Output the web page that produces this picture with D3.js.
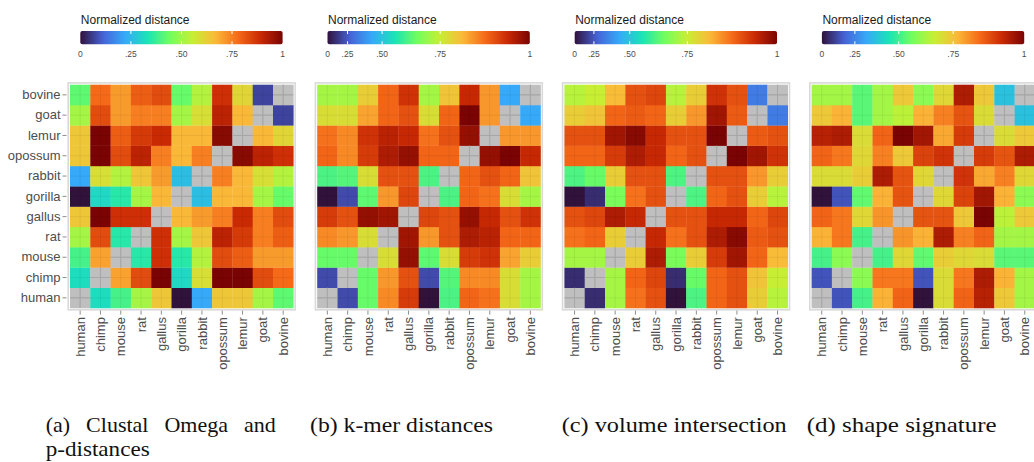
<!DOCTYPE html>
<html>
<head>
<meta charset="utf-8">
<script src="https://cdn.jsdelivr.net/npm/d3@7"></script>
<style>
  body { margin: 0; background: #fff; }
  svg { display: block; }
</style>
</head>
<body>
<script>
// species, in the order of the x axis (y axis is reversed)
const species = ['human', 'chimp', 'mouse', 'rat', 'gallus', 'gorilla', 'rabbit', 'opossum', 'lemur', 'goat', 'bovine'];

// colour bar ticks
const tickVals = [0, 0.25, 0.5, 0.75, 1];
const tickLabels = ['0', '.25', '.50', '.75', '1'];

// where each tick value sits along the colour bar (0..1), per panel
const stopsA = [0, 0.25, 0.5, 0.75, 1];
const stopsB = [0, 0.099, 0.27, 0.557, 1];
const stopsC = [0, 0.095, 0.272, 0.557, 1];
const stopsD = [0, 0.163, 0.38, 0.649, 1];

// normalized distances, lower triangle: row k is species[k+1] vs species[0..k]
const distA = [
  [0.32],
  [0.39, 0.70],
  [0.51, 0.83, 0.35],
  [0.64, 1.00, 0.88, 0.88],
  [0.00, 0.31, 0.35, 0.51, 0.67],
  [0.22, 0.59, 0.53, 0.64, 0.71, 0.26],
  [0.64, 1.00, 0.83, 0.91, 0.75, 0.67, 0.75],
  [0.64, 1.00, 0.80, 0.86, 0.89, 0.67, 0.67, 0.98],
  [0.51, 0.83, 0.71, 0.75, 0.75, 0.51, 0.59, 0.91, 0.67],
  [0.42, 0.78, 0.71, 0.80, 0.83, 0.43, 0.53, 0.88, 0.61, 0.07]
];
const distB = [
  [0.20],
  [0.64, 0.64],
  [0.85, 0.84, 0.77],
  [0.92, 0.90, 0.98, 0.97],
  [0.00, 0.20, 0.63, 0.84, 0.91],
  [0.61, 0.62, 0.77, 0.90, 0.90, 0.61],
  [0.88, 0.85, 0.92, 0.96, 0.98, 0.88, 0.88],
  [0.87, 0.85, 0.93, 0.95, 0.94, 0.87, 0.90, 0.98],
  [0.77, 0.77, 0.83, 0.88, 0.90, 0.77, 0.88, 1.00, 0.84],
  [0.71, 0.71, 0.79, 0.88, 0.93, 0.71, 0.80, 0.94, 0.84, 0.43]
];
const distC = [
  [0.10],
  [0.71, 0.71],
  [0.87, 0.88, 0.79],
  [0.90, 0.91, 0.96, 0.94],
  [0.00, 0.10, 0.66, 0.87, 0.90],
  [0.61, 0.64, 0.79, 0.90, 0.90, 0.61],
  [0.88, 0.88, 0.92, 0.96, 0.94, 0.88, 0.90],
  [0.90, 0.90, 0.97, 0.99, 0.94, 0.90, 0.90, 1.00],
  [0.79, 0.80, 0.88, 0.89, 0.88, 0.79, 0.84, 0.97, 0.89],
  [0.73, 0.75, 0.81, 0.90, 0.91, 0.73, 0.79, 0.93, 0.90, 0.33]
];
const distD = [
  [0.14],
  [0.51, 0.59],
  [0.77, 0.83, 0.51],
  [0.85, 0.83, 0.71, 0.80],
  [0.00, 0.14, 0.54, 0.77, 0.87],
  [0.70, 0.70, 0.73, 0.95, 0.87, 0.71],
  [0.85, 0.83, 0.71, 0.82, 0.74, 0.89, 0.91],
  [0.94, 0.95, 0.70, 0.85, 1.00, 0.96, 0.78, 0.90],
  [0.74, 0.77, 0.53, 0.62, 0.65, 0.77, 0.82, 0.87, 0.70],
  [0.62, 0.62, 0.53, 0.62, 0.74, 0.59, 0.71, 0.95, 0.74, 0.37]
];

const captions = [
  ['(a) Clustal Omega and', 'p-distances'],
  ['(b) k-mer distances'],
  ['(c) volume intersection'],
  ['(d) shape signature']
];

const panels = [
  { dist: distA, stops: stopsA, caption: captions[0] },
  { dist: distB, stops: stopsB, caption: captions[1] },
  { dist: distC, stops: stopsC, caption: captions[2] },
  { dist: distD, stops: stopsD, caption: captions[3] }
];

// layout
let width = 1034, height = 462;
let side = 223.3;
let topY = 84.7;
let panelStep = 247.2;
let captionX = [45.7, 310, 561.7, 806.7];
let captionW = [[230, 104], [183], [225], [190]];
let captionFont = '22px "Liberation Serif", "Times New Roman", serif';

// turbo palette
let turbo = d3.piecewise(d3.interpolateRgb, ['#30123b', '#4662d7', '#36aaf9', '#1ae4b6', '#72fe5e',
  '#c7ef34', '#faba39', '#f66b19', '#ca2a04', '#7a0403']);

let svg = d3.select('body').append('svg')
  .attr('width', width)
  .attr('height', height);

let defs = svg.append('defs');

panels.forEach(function(p, k) {
  let x0 = 70 + k * panelStep;

  let x = d3.scaleBand().domain(species).range([x0, x0 + side]);
  let y = d3.scaleBand().domain(species.slice().reverse()).range([topY, topY + side]);
  let pos = d3.scaleLinear().domain(tickVals).range(p.stops).clamp(true);
  let colour = function(v) { return turbo(pos(v)); };

  // full symmetric matrix from the triangle
  let cells = [];
  species.forEach(function(a, i) {
    species.forEach(function(b, j) {
      let v = null;
      if (i > j) v = p.dist[i - 1][j];
      if (j > i) v = p.dist[j - 1][i];
      cells.push({ a: a, b: b, v: v });
    });
  });

  let g = svg.append('g');

  // panel frame
  g.append('rect')
    .attr('x', x0 - 1.8)
    .attr('y', topY - 1.8)
    .attr('width', side + 3.6)
    .attr('height', side + 3.6)
    .attr('fill', '#fff')
    .attr('stroke', '#d9d9d9')
    .attr('stroke-width', 1.6);

  g.append('g')
    .selectAll('rect')
    .data(cells)
    .enter().append('rect')
    .attr('x', function(d) { return x(d.a); })
    .attr('y', function(d) { return y(d.b); })
    .attr('width', x.bandwidth() + 0.3)
    .attr('height', y.bandwidth() + 0.3)
    .attr('fill', function(d) { return d.v === null ? '#bfbfbf' : colour(d.v); });

  // faint grid lines through the tile centres
  let grid = g.append('g').attr('stroke', '#000').attr('stroke-opacity', 0.06).attr('stroke-width', 1);
  grid.selectAll('.gx')
    .data(species)
    .enter().append('line')
    .attr('x1', function(d) { return x(d) + x.bandwidth() / 2; })
    .attr('x2', function(d) { return x(d) + x.bandwidth() / 2; })
    .attr('y1', topY)
    .attr('y2', topY + side);
  grid.selectAll('.gy')
    .data(species)
    .enter().append('line')
    .attr('y1', function(d) { return y(d) + y.bandwidth() / 2; })
    .attr('y2', function(d) { return y(d) + y.bandwidth() / 2; })
    .attr('x1', x0)
    .attr('x2', x0 + side);

  // darker cross on the missing diagonal
  let diag = g.append('g').attr('stroke', '#a6a6a6').attr('stroke-width', 1);
  species.forEach(function(s) {
    let cx = x(s) + x.bandwidth() / 2, cy = y(s) + y.bandwidth() / 2;
    diag.append('line').attr('x1', cx).attr('x2', cx).attr('y1', y(s)).attr('y2', y(s) + y.bandwidth());
    diag.append('line').attr('y1', cy).attr('y2', cy).attr('x1', x(s)).attr('x2', x(s) + x.bandwidth());
  });

  // axes
  let xAxis = g.append('g')
    .attr('transform', 'translate(0,' + (topY + side + 2.6) + ')')
    .call(d3.axisBottom(x).tickSize(4).tickPadding(2));
  xAxis.select('.domain').remove();
  xAxis.selectAll('line').attr('stroke', '#8c8c8c');
  xAxis.selectAll('text')
    .attr('transform', 'rotate(-90)')
    .attr('x', -6.5)
    .attr('y', 0)
    .attr('dy', '0.35em')
    .attr('text-anchor', 'end')
    .attr('fill', '#4d4d4d')
    .style('font', '13px "Liberation Sans", Arial, sans-serif');

  if (k === 0) {
    let yAxis = g.append('g')
      .attr('transform', 'translate(' + (x0 - 3.5) + ',0)')
      .call(d3.axisLeft(y).tickSize(4).tickPadding(2));
    yAxis.select('.domain').remove();
    yAxis.selectAll('line').attr('stroke', '#8c8c8c');
    yAxis.selectAll('text')
      .attr('fill', '#4d4d4d')
      .style('font', '13px "Liberation Sans", Arial, sans-serif');
  }

  // colour bar legend
  let bx = x0 + 10.3, by = 31, bw = 202.3, bh = 13.3;
  let bar = d3.scaleLinear().domain([0, 1]).range([bx, bx + bw]);

  let grad = defs.append('linearGradient').attr('id', 'grad' + k);
  d3.range(0, 1.0001, 0.02).forEach(function(t) {
    grad.append('stop').attr('offset', (t * 100) + '%').attr('stop-color', turbo(t));
  });

  let leg = svg.append('g');
  leg.append('text')
    .attr('x', bx + 0.5)
    .attr('y', 23.5)
    .attr('fill', '#1a1a1a')
    .style('font', '12px "Liberation Sans", Arial, sans-serif')
    .text('Normalized distance');

  leg.append('rect')
    .attr('x', bx)
    .attr('y', by)
    .attr('width', bw)
    .attr('height', bh)
    .attr('rx', 2)
    .attr('fill', 'url(#grad' + k + ')');

  let tk = leg.selectAll('.tk')
    .data(tickVals)
    .enter().append('g')
    .attr('transform', function(d) { return 'translate(' + bar(pos(d)) + ',0)'; });

  tk.filter(function(d) { return d > 0 && d < 1; })
    .append('line')
    .attr('y1', by).attr('y2', by + 3)
    .attr('stroke', '#fff').attr('stroke-width', 1);
  tk.filter(function(d) { return d > 0 && d < 1; })
    .append('line')
    .attr('y1', by + bh - 3).attr('y2', by + bh)
    .attr('stroke', '#fff').attr('stroke-width', 1);

  tk.append('text')
    .attr('y', 56.5)
    .attr('text-anchor', 'middle')
    .attr('fill', '#4d4d4d')
    .style('font', '8.5px "Liberation Sans", Arial, sans-serif')
    .text(function(d, i) { return tickLabels[i]; });

  // caption (first line of a two-line caption is justified word by word)
  p.caption.forEach(function(line, i) {
    let yy = 431.7 + i * 24;
    if (i === 0 && p.caption.length > 1) {
      let words = line.split(' ');
      let ws = words.map(function(w) {
        return svg.append('text')
          .attr('y', yy)
          .attr('fill', '#111')
          .style('font', captionFont)
          .text(w);
      });
      let lens = ws.map(function(t) { return t.node().getComputedTextLength(); });
      let gap = (captionW[k][i] - d3.sum(lens)) / (words.length - 1);
      let cx = captionX[k];
      ws.forEach(function(t, j) {
        t.attr('x', cx);
        cx += lens[j] + gap;
      });
    } else {
      svg.append('text')
        .attr('x', captionX[k])
        .attr('y', yy)
        .attr('fill', '#111')
        .attr('textLength', captionW[k][i])
        .attr('lengthAdjust', 'spacingAndGlyphs')
        .style('font', captionFont)
        .text(line);
    }
  });
});
</script>
</body>
</html>
